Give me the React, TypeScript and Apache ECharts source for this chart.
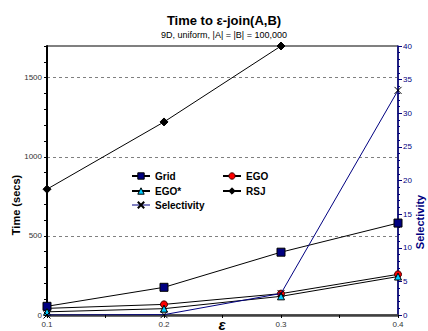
import React, { useEffect, useRef } from "react";
import * as echarts from "echarts";

const epsilons = [0.1, 0.2, 0.3, 0.4];
const gridTime = [55, 175, 397, 581];
const egoTime = [42, 67, 135, 257];
const egoStarTime = [20, 40, 118, 243];
const rsjTime = [795, 1220, 1700];
const selectivity = [0, 0.05, 3.2, 33.4];
const timeTicks = [0, 500, 1000, 1500];

const FONT = "Liberation Sans";

export default function App() {
  const ref = useRef<HTMLDivElement>(null);
  useEffect(() => {
    const chart = echarts.init(ref.current!, null, { renderer: "svg" });
    const pairs = (vals: number[]) => vals.map((v, i) => [epsilons[i], v]);
    const legendBase = {
      itemWidth: 18,
      itemHeight: 8,
      itemGap: 4,
      textStyle: { fontFamily: FONT, fontSize: 10, fontWeight: "bold", color: "#000" },
      padding: 0,
    };
    chart.setOption({
      animation: false,
      grid: { left: 47, right: 30, top: 46, bottom: 16, show: true, borderColor: "#000", borderWidth: 1, backgroundColor: "transparent" },
      legend: [
        { ...legendBase, data: [{ name: "Grid", itemStyle: { color: "#000080", borderColor: "#000", borderWidth: 1 } }], left: 131, top: 171 },
        { ...legendBase, data: [{ name: "EGO", itemStyle: { color: "#ff0000", borderColor: "#400000", borderWidth: 1 } }], left: 222, top: 171 },
        { ...legendBase, data: [{ name: "EGO*", itemStyle: { color: "#00ccff", borderColor: "#000", borderWidth: 1 } }], left: 131, top: 186 },
        { ...legendBase, data: [{ name: "RSJ", itemStyle: { color: "#000", borderColor: "#000", borderWidth: 1 } }], left: 222, top: 186 },
        { ...legendBase, data: [{ name: "Selectivity", lineStyle: { color: "#8080c0" } }], left: 131, top: 200 },
      ],
      xAxis: {
        type: "value",
        min: 0.1,
        max: 0.4,
        interval: 0.1,
        axisLine: { lineStyle: { color: "#404040", width: 2.5 } },
        axisTick: { show: true, length: 3, inside: false, lineStyle: { color: "#000" } },
        minorTick: { show: true, splitNumber: 2, length: 3, lineStyle: { color: "#000" } },
        splitLine: { show: false },
        axisLabel: {
          fontFamily: FONT,
          fontSize: 8,
          color: "#333",
          margin: 5,
          formatter: (v: number) => v.toFixed(1),
        },
      },
      yAxis: [
        {
          type: "value",
          min: 0,
          max: 1700,
          interval: 500,
          axisLine: { show: true, lineStyle: { color: "#000", width: 2 } },
          axisTick: { show: true, length: 3, lineStyle: { color: "#000" } },
          minorTick: { show: true, splitNumber: 5, length: 3, lineStyle: { color: "#000" } },
          splitLine: { show: true, lineStyle: { color: "#808080", type: [3, 3], width: 1.2 } },
          axisLabel: {
            fontFamily: FONT,
            fontSize: 8,
            color: "#333",
            margin: 5,
            showMaxLabel: false,
            formatter: (v: number) => (timeTicks.includes(v) ? String(v) : ""),
          },
        },
        {
          type: "value",
          min: 0,
          max: 40,
          interval: 5,
          position: "right",
          axisLine: { show: true, lineStyle: { color: "#000080", width: 1.5 } },
          axisTick: { show: true, length: 4, lineStyle: { color: "#000080" } },
          minorTick: { show: true, splitNumber: 5, length: 2, lineStyle: { color: "#000080" } },
          splitLine: { show: false },
          axisLabel: { fontFamily: FONT, fontSize: 8, color: "#000080", margin: 5 },
        },
      ],
      series: [
        {
          name: "Grid",
          type: "line",
          data: pairs(gridTime),
          symbol: "rect",
          symbolSize: 8,
          lineStyle: { color: "#000", width: 1 },
          itemStyle: { color: "#000080", borderColor: "#000", borderWidth: 1 },
          z: 5,
        },
        {
          name: "EGO",
          type: "line",
          data: pairs(egoTime),
          symbol: "circle",
          symbolSize: 7,
          lineStyle: { color: "#000", width: 1 },
          itemStyle: { color: "#ff0000", borderColor: "#400000", borderWidth: 1 },
          z: 4,
        },
        {
          name: "EGO*",
          type: "line",
          data: pairs(egoStarTime),
          symbol: "triangle",
          symbolSize: 7,
          lineStyle: { color: "#000", width: 1 },
          itemStyle: { color: "#00ccff", borderColor: "#000", borderWidth: 1 },
          z: 6,
        },
        {
          name: "RSJ",
          type: "line",
          data: pairs(rsjTime),
          symbol: "diamond",
          symbolSize: 8,
          lineStyle: { color: "#000", width: 1 },
          itemStyle: { color: "#000", borderColor: "#000", borderWidth: 1 },
          z: 5,
        },
        {
          name: "Selectivity",
          type: "line",
          yAxisIndex: 1,
          data: pairs(selectivity),
          symbol: "path://M0,0L10,10M10,0L0,10",
          symbolSize: 7,
          lineStyle: { color: "#000080", width: 1 },
          itemStyle: { color: "transparent", borderColor: "#000", borderWidth: 1 },
          z: 7,
        },
      ],
      graphic: [
        {
          type: "text",
          x: 224,
          y: 20,
          style: { text: "Time to ε-join(A,B)", fontFamily: FONT, fontSize: 13, fontWeight: "bold", fill: "#000", textAlign: "center", textVerticalAlign: "middle" },
        },
        {
          type: "text",
          x: 224,
          y: 35,
          style: { text: "9D, uniform, |A| = |B| = 100,000", fontFamily: FONT, fontSize: 9, fill: "#000", textAlign: "center", textVerticalAlign: "middle" },
        },
        {
          type: "text",
          x: 16,
          y: 205,
          rotation: Math.PI / 2,
          style: { text: "Time (secs)", fontFamily: FONT, fontSize: 11, fontWeight: "bold", fill: "#000", textAlign: "center", textVerticalAlign: "middle" },
        },
        {
          type: "text",
          x: 420,
          y: 222,
          rotation: Math.PI / 2,
          style: { text: "Selectivity", fontFamily: FONT, fontSize: 11, fontWeight: "bold", fill: "#000080", textAlign: "center", textVerticalAlign: "middle" },
        },
        {
          type: "text",
          x: 222,
          y: 324,
          style: { text: "ε", fontFamily: FONT, fontSize: 15, fontWeight: "bold", fontStyle: "italic", fill: "#000", textAlign: "center", textVerticalAlign: "middle" },
        },
      ],
    });
    return () => chart.dispose();
  }, []);
  return <div ref={ref} style={{ width: 428, height: 331, position: "absolute", left: 0, top: 0 }} />;
}
